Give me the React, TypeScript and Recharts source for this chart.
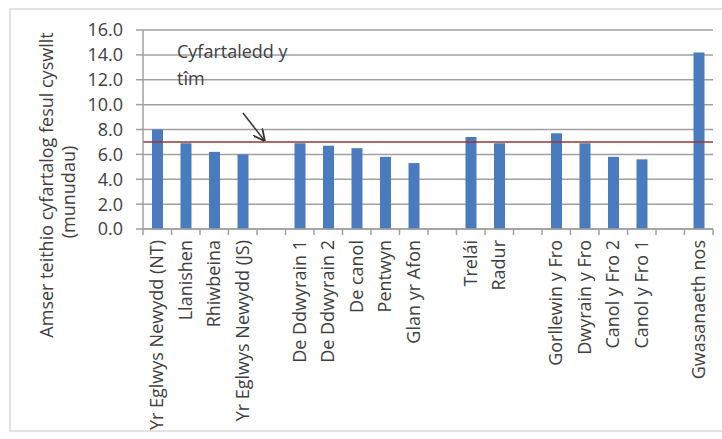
import React from "react";
import { BarChart, Bar, XAxis, YAxis, CartesianGrid, ReferenceLine } from "recharts";

const categories = [
  "Yr Eglwys Newydd (NT)",
  "Llanishen",
  "Rhiwbeina",
  "Yr Eglwys Newydd (JS)",
  "",
  "De Ddwyrain 1",
  "De Ddwyrain 2",
  "De canol",
  "Pentwyn",
  "Glan yr Afon",
  "",
  "Trelái",
  "Radur",
  "",
  "Gorllewin y Fro",
  "Dwyrain y Fro",
  "Canol y Fro 2",
  "Canol y Fro 1",
  "",
  "Gwasanaeth nos",
];

const travelTimes: (number | null)[] = [
  8.0, 6.9, 6.2, 6.0, null, 6.9, 6.7, 6.5, 5.8, 5.3, null, 7.4, 6.9, null, 7.7, 6.9, 5.8, 5.6, null, 14.2,
];

const teamAverage = 7.0;
const yTicks = [0, 2, 4, 6, 8, 10, 12, 14, 16];
const yTitle = "Amser teithio cyfartalog fesul cyswllt";
const yTitle2 = "(munudau)";
const noteLine1 = "Cyfartaledd y";
const noteLine2 = "tîm";

const data = categories.map((name, i) => ({ name, value: travelTimes[i] }));

const FONT = "'Open Sans', sans-serif";
const TEXT = "#404040";
const GRID = "#a0a0a0";
const W = 722;
const H = 439;
const PLOT_LEFT = 143;
const PLOT_RIGHT = 713;
const HALF_BAND = (PLOT_RIGHT - PLOT_LEFT) / categories.length / 2;

const CatTick = (props: any) => {
  const { x, y, payload, index } = props;
  const isLast = index === categories.length - 1;
  return (
    <g>
      <line x1={x - HALF_BAND} x2={x - HALF_BAND} y1={y} y2={y + 6} stroke={GRID} strokeWidth={1.5} />
      {isLast && (
        <line x1={x + HALF_BAND} x2={x + HALF_BAND} y1={y} y2={y + 6} stroke={GRID} strokeWidth={1.5} />
      )}
      <text
        transform={`translate(${x + 6},${y + 11}) rotate(-90)`}
        textAnchor="end"
        fontSize={18}
        fontFamily={FONT}
        fill={TEXT}
      >
        {payload.value}
      </text>
    </g>
  );
};

export default function App() {
  return (
    <div style={{ position: "absolute", left: 0, top: 0, width: W, height: H, background: "#fff" }}>
      <BarChart
        width={W}
        height={H}
        data={data}
        margin={{ top: 30, right: W - PLOT_RIGHT, bottom: 0, left: 0 }}
      >
        <CartesianGrid vertical={false} stroke={GRID} strokeWidth={1.5} />
        <XAxis
          dataKey="name"
          interval={0}
          height={210}
          tickLine={false}
          tickSize={0}
          tickMargin={0}
          axisLine={{ stroke: GRID, strokeWidth: 1.5 }}
          tick={<CatTick />}
        />
        <YAxis
          width={PLOT_LEFT}
          domain={[0, 16]}
          ticks={yTicks}
          interval={0}
          tickFormatter={(v: number) => v.toFixed(1)}
          tickSize={7}
          tickMargin={13}
          tickLine={{ stroke: GRID, strokeWidth: 1.5 }}
          axisLine={{ stroke: GRID, strokeWidth: 1.5 }}
          tick={{ fontSize: 18, fontFamily: FONT, fill: TEXT }}
        />
        <ReferenceLine y={teamAverage} stroke="#953735" strokeWidth={1.5} />
        <Bar dataKey="value" fill="#4a7bbf" barSize={11} isAnimationActive={false} />
      </BarChart>
      <svg
        width={W}
        height={H}
        style={{ position: "absolute", left: 0, top: 0, pointerEvents: "none" }}
      >
        <defs>
          <marker id="arr" markerWidth="8" markerHeight="8" refX="7" refY="4" orient="auto">
            <path d="M0,0 L8,4 L0,8" fill="none" stroke="#333" strokeWidth="1.2" />
          </marker>
        </defs>
        <rect x={10} y={9} width={730} height={422} fill="none" stroke="#d9d9d9" strokeWidth={1.5} />
        <text
          transform="translate(53,185) rotate(-90)"
          textAnchor="middle"
          fontSize={18}
          fontFamily={FONT}
          fill={TEXT}
        >
          {yTitle}
        </text>
        <text
          transform="translate(75,192) rotate(-90)"
          textAnchor="middle"
          fontSize={18}
          fontFamily={FONT}
          fill={TEXT}
        >
          {yTitle2}
        </text>
        <text x={177} y={58} fontSize={18} fontFamily={FONT} fill={TEXT}>
          {noteLine1}
        </text>
        <text x={177} y={85} fontSize={18} fontFamily={FONT} fill={TEXT}>
          {noteLine2}
        </text>
        <line x1={243} y1={113} x2={264} y2={140} stroke="#333" strokeWidth={1.5} markerEnd="url(#arr)" />
      </svg>
    </div>
  );
}
